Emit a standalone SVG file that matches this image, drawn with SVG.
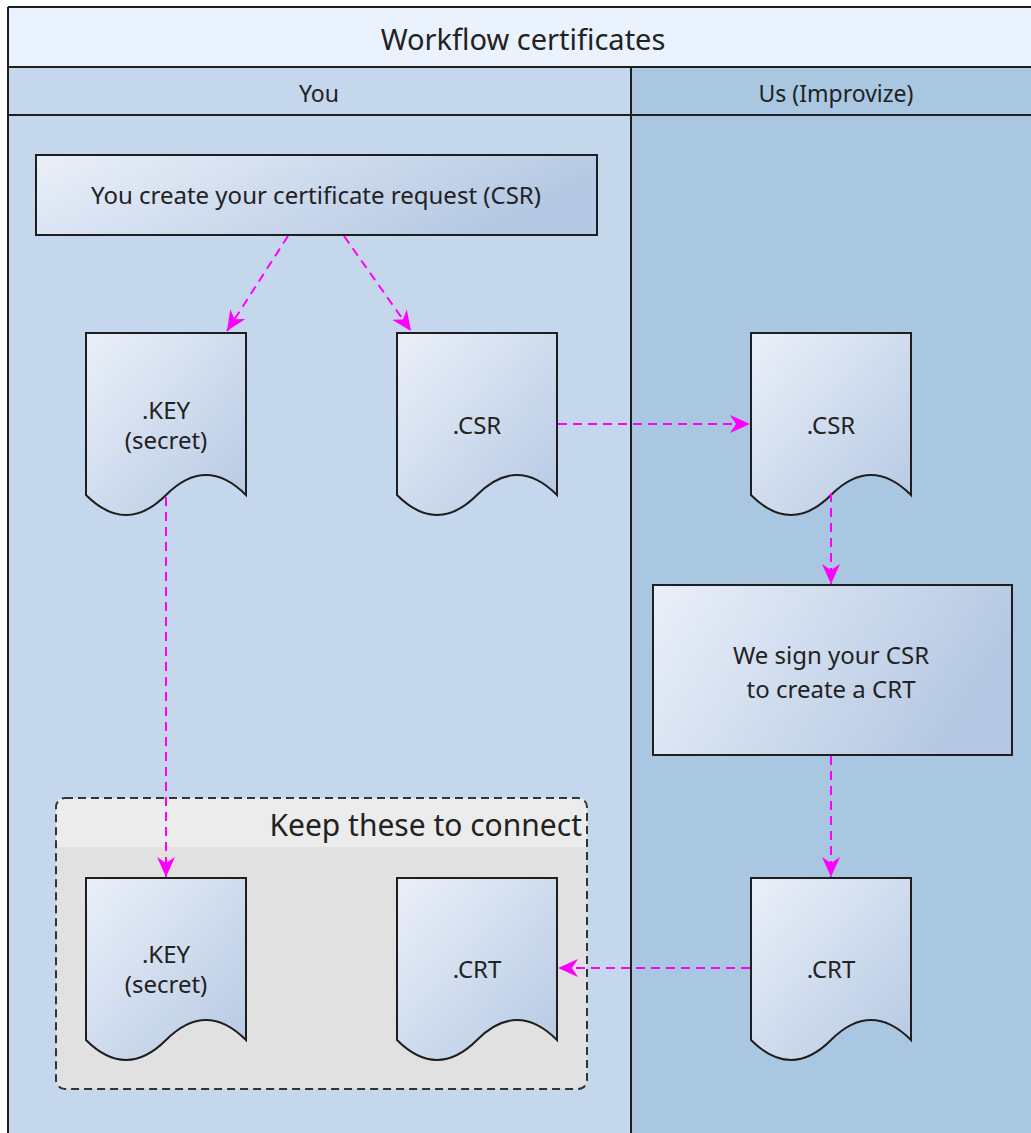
<svg xmlns="http://www.w3.org/2000/svg" width="1031" height="1133" viewBox="0 0 1031 1133">
  <style>
    .t { font-family: "Noto Sans", "Open Sans", sans-serif; fill: #222; text-anchor: middle; }
    .node { stroke: #1e1e1e; stroke-width: 2; }
    .conn { stroke: #ff00ff; stroke-width: 2; stroke-dasharray: 9 6; fill: none; }
    .frame { stroke: #1e1e1e; stroke-width: 2; }
  </style>
  <defs>
    <linearGradient id="g" x1="0" y1="0" x2="1" y2="1">
      <stop offset="0" stop-color="#eaf0f9"/>
      <stop offset="1" stop-color="#b5c8e3"/>
    </linearGradient>
    <linearGradient id="gw" x1="0" y1="0" x2="1" y2="0.3">
      <stop offset="0" stop-color="#eaf0f9"/>
      <stop offset="1" stop-color="#b5c8e3"/>
    </linearGradient>
    <marker id="arr" markerUnits="userSpaceOnUse" markerWidth="22" markerHeight="20" refX="20" refY="10" orient="auto">
      <path d="M0,1 L20,10 L0,19 L6,10 z" fill="#ff00ff"/>
    </marker>
  </defs>

  <!-- swimlane frame -->
  <g id="pool">
    <rect x="8" y="7" width="1040" height="1140" fill="#c4d7ec"/>
    <rect x="631" y="67" width="420" height="1080" fill="#a9c7e1"/>
    <rect x="8" y="7" width="1040" height="60" fill="#eaf2fe"/>
    <line class="frame" x1="8" y1="7" x2="1040" y2="7"/>
    <line class="frame" x1="8" y1="7" x2="8" y2="1140"/>
    <line class="frame" x1="8" y1="67" x2="1040" y2="67"/>
    <line class="frame" x1="8" y1="115" x2="1040" y2="115"/>
    <line class="frame" x1="631" y1="67" x2="631" y2="1140"/>
    <text class="t" x="523" y="50" font-size="29">Workflow certificates</text>
    <text class="t" x="319" y="102" font-size="23">You</text>
    <text class="t" x="836" y="102" font-size="23">Us (Improvize)</text>
  </g>

  <!-- group -->
  <g id="keep-group">
    <rect x="56" y="798" width="531" height="291" rx="9" fill="#e1e1e1"/>
    <path d="M56,847 V807 Q56,798 65,798 H578 Q587,798 587,807 V847 Z" fill="#ececec"/>
    <rect x="56" y="798" width="531" height="291" rx="9" fill="none" stroke="#333" stroke-width="2" stroke-dasharray="8 5"/>
    <text class="t" x="582" y="836" font-size="30" style="text-anchor:end">Keep these to connect</text>
  </g>

  <g id="create-csr">
    <rect class="node" x="36" y="155" width="561" height="80" fill="url(#gw)"/>
    <text class="t" x="316" y="204" font-size="24">You create your certificate request (CSR)</text>
  </g>

  <g id="key1">
    <path class="node" fill="url(#g)" d="M86,333 H246 V495 Q206,455 166,495 T86,495 Z"/>
    <text class="t" x="166" y="419" font-size="24">.KEY</text>
    <text class="t" x="166" y="449" font-size="24">(secret)</text>
  </g>

  <g id="csr1">
    <path class="node" fill="url(#g)" d="M397,333 H557 V495 Q517,455 477,495 T397,495 Z"/>
    <text class="t" x="477" y="434" font-size="24">.CSR</text>
  </g>

  <g id="csr2">
    <path class="node" fill="url(#g)" d="M751,333 H911 V495 Q871,455 831,495 T751,495 Z"/>
    <text class="t" x="831" y="434" font-size="24">.CSR</text>
  </g>

  <g id="sign">
    <rect class="node" x="653" y="585" width="359" height="170" fill="url(#gw)"/>
    <text class="t" x="831" y="664" font-size="24">We sign your CSR</text>
    <text class="t" x="831" y="698" font-size="24">to create a CRT</text>
  </g>

  <g id="crt2">
    <path class="node" fill="url(#g)" d="M751,878 H911 V1040 Q871,1000 831,1040 T751,1040 Z"/>
    <text class="t" x="831" y="978" font-size="24">.CRT</text>
  </g>

  <g id="key2">
    <path class="node" fill="url(#g)" d="M86,878 H246 V1040 Q206,1000 166,1040 T86,1040 Z"/>
    <text class="t" x="166" y="963" font-size="24">.KEY</text>
    <text class="t" x="166" y="993" font-size="24">(secret)</text>
  </g>

  <g id="crt1">
    <path class="node" fill="url(#g)" d="M397,878 H557 V1040 Q517,1000 477,1040 T397,1040 Z"/>
    <text class="t" x="477" y="978" font-size="24">.CRT</text>
  </g>

  <g id="connectors">
    <line class="conn" x1="288" y1="236" x2="227" y2="331" marker-end="url(#arr)"/>
    <line class="conn" x1="344" y1="236" x2="411" y2="331" marker-end="url(#arr)"/>
    <line class="conn" x1="558" y1="424" x2="750" y2="424" marker-end="url(#arr)"/>
    <line class="conn" x1="831" y1="493" x2="831" y2="584" marker-end="url(#arr)"/>
    <line class="conn" x1="831" y1="756" x2="831" y2="877" marker-end="url(#arr)"/>
    <line class="conn" x1="750" y1="968" x2="558" y2="968" marker-end="url(#arr)"/>
    <line class="conn" x1="166" y1="497" x2="166" y2="877" marker-end="url(#arr)"/>
  </g>
</svg>
